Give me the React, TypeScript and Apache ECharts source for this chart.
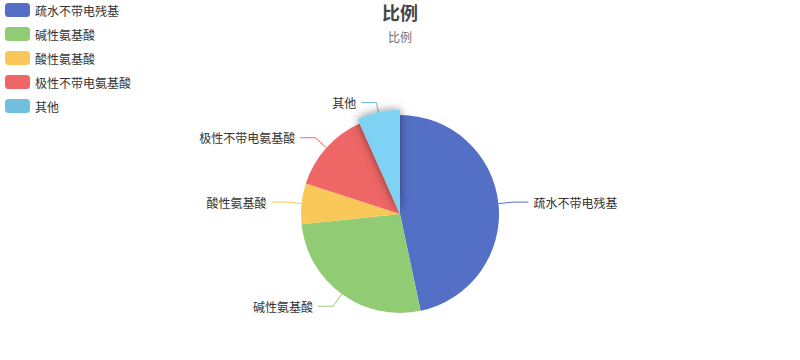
import React, { useEffect, useRef } from "react";
import * as echarts from "echarts";

// Amino-acid class counts shown in the pie
const categories = ["疏水不带电残基", "碱性氨基酸", "酸性氨基酸", "极性不带电氨基酸", "其他"];
const counts = [7, 4, 1, 2, 1];
const palette = ["#5470c6", "#91cc75", "#fac858", "#ee6666", "#73c0de"];
const titleText = "比例";
const subText = "比例";
const highlightedIndex = 4;

const FONT = '"Noto Sans CJK SC", "Microsoft YaHei", sans-serif';

export default function App() {
  const ref = useRef<HTMLDivElement>(null);

  useEffect(() => {
    if (!ref.current) return;
    const chart = echarts.init(ref.current, undefined, { renderer: "svg" });
    chart.setOption({
      animation: false,
      color: palette,
      textStyle: { fontFamily: FONT },
      title: {
        text: titleText,
        subtext: subText,
        left: "center",
        top: 0,
        textStyle: { fontSize: 18, fontWeight: "bold", color: "#464646", fontFamily: FONT },
        subtextStyle: { fontSize: 12, color: "#6E7079", fontFamily: FONT },
      },
      legend: {
        orient: "vertical",
        left: 0,
        top: 0,
        itemWidth: 25,
        itemHeight: 14,
        itemGap: 10,
        icon: "roundRect",
        textStyle: { color: "#333", fontSize: 12, fontFamily: FONT },
        data: categories,
      },
      series: [
        {
          name: titleText,
          type: "pie",
          radius: "55%",
          center: ["50%", "60%"],
          startAngle: 90,
          data: categories.map((name, i) => ({ name, value: counts[i] })),
          label: { color: "#333", fontSize: 12, fontFamily: FONT },
          labelLine: { length: 15, length2: 15, smooth: false },
          emphasis: {
            scale: true,
            scaleSize: 5,
            itemStyle: {
              shadowBlur: 10,
              shadowOffsetX: 0,
              shadowColor: "rgba(0, 0, 0, 0.5)",
            },
          },
        },
      ],
    });
    chart.dispatchAction({ type: "highlight", seriesIndex: 0, dataIndex: highlightedIndex });
    return () => chart.dispose();
  }, []);

  return (
    <div
      ref={ref}
      style={{ position: "absolute", left: 0, top: -2, width: 800, height: 360 }}
    />
  );
}
